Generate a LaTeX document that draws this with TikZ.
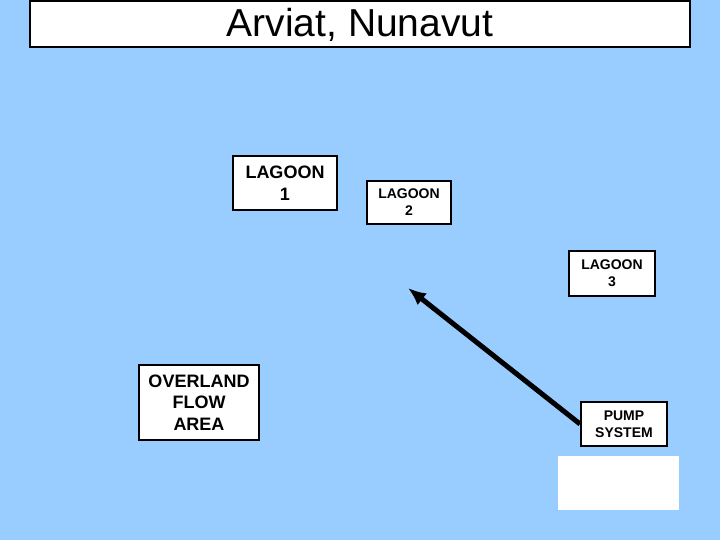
\documentclass[tikz,border=0pt]{standalone}
\usepackage{fontspec}
\setmainfont{Liberation Sans}
\usetikzlibrary{arrows.meta}
\begin{document}
\begin{tikzpicture}[x=1pt,y=-1pt]
    \definecolor{sky}{RGB}{153,204,255}
    \tikzstyle{box}=[draw=black, line width=2pt, fill=white, inner sep=0pt, align=center]
    \tikzstyle{big}=[box, font=\bfseries\fontsize{18}{21.5}\selectfont]
    \tikzstyle{small}=[box, font=\bfseries\fontsize{14}{17}\selectfont]
    \tikzstyle{flow}=[-{Latex[length=18pt,width=15pt]}, draw=black, line width=5pt]

    \fill[sky] (0,0) rectangle (720,540);
    \useasboundingbox (0,0) rectangle (720,540);

    \node[box, minimum width=660pt, minimum height=46pt, font=\fontsize{39}{44}\selectfont] (title) at (360,24.5) {Arviat, Nunavut};

    \node[big, minimum width=104pt, minimum height=54pt] (lagoon1) at (285,183) {LAGOON\\1};
    \node[small, minimum width=84pt, minimum height=43pt] (lagoon2) at (409,202.5) {LAGOON\\2};
    \node[small, minimum width=86pt, minimum height=45pt] (lagoon3) at (612,273.5) {LAGOON\\3};
    \node[small, minimum width=86pt, minimum height=44pt] (pump) at (624,424) {PUMP\\SYSTEM};
    \node[big, minimum width=120pt, minimum height=75pt] (overland) at (199,402.5) {OVERLAND\\FLOW\\AREA};
    \node[fill=white, minimum width=121pt, minimum height=54pt, inner sep=0pt] (blank) at (618.5,483) {};

    \coordinate (tip) at (408,288);
    \draw [flow] (pump.west) -- (tip);
\end{tikzpicture}
\end{document}
